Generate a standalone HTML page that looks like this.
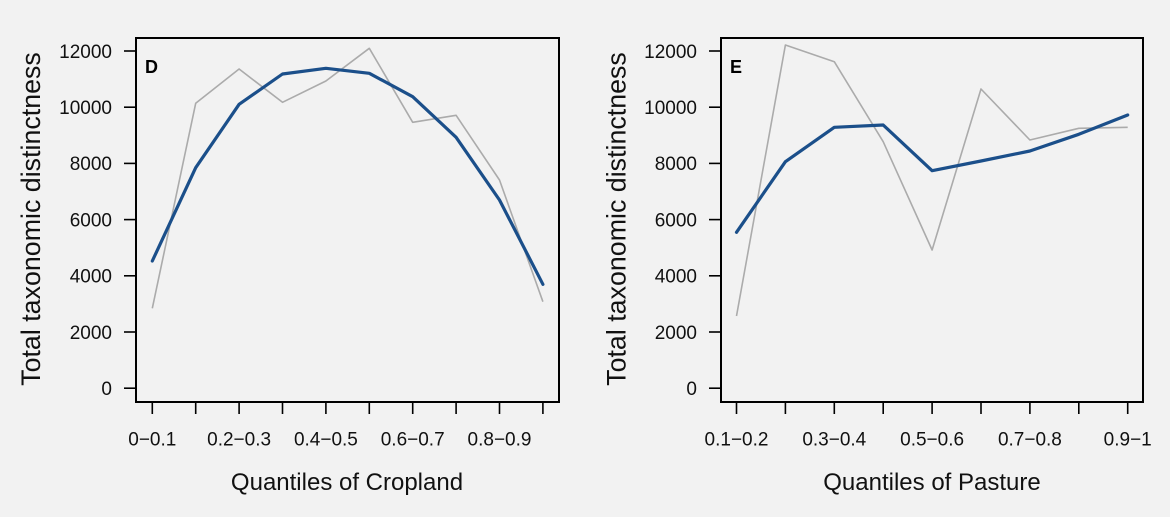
<!DOCTYPE html>
<html><head><meta charset="utf-8"><style>
html,body{margin:0;padding:0;background:#f2f2f2;}
svg{display:block;font-family:"Liberation Sans",Arial,sans-serif;}
</style></head><body>
<svg width="1170" height="517" viewBox="0 0 1170 517" xmlns="http://www.w3.org/2000/svg">
<rect width="1170" height="517" fill="#f2f2f2"/>
<!-- Panel D -->
<g>
<polyline fill="none" stroke="#ababab" stroke-width="1.6" stroke-linejoin="round" points="152.3,308.3 195.7,103.3 239.1,69 282.5,102.3 325.9,81 369.3,48.3 412.7,122.3 456.1,115.3 499.5,180 542.9,301.7"/>
<polyline fill="none" stroke="#1b4f8a" stroke-width="3.2" stroke-linejoin="round" stroke-linecap="round" points="152.3,261 195.7,167.7 239.1,104.3 282.5,74 325.9,68.3 369.3,73.3 412.7,96.7 456.1,137.3 499.5,200 542.9,284.3"/>
<rect x="136" y="38" width="423" height="364" fill="none" stroke="#000" stroke-width="2"/>
<text x="145" y="73" font-size="18" font-weight="bold">D</text>
<g stroke="#000" stroke-width="1.6">
<line x1="124" y1="51" x2="136" y2="51"/><line x1="124" y1="107.2" x2="136" y2="107.2"/><line x1="124" y1="163.4" x2="136" y2="163.4"/><line x1="124" y1="219.6" x2="136" y2="219.6"/><line x1="124" y1="275.8" x2="136" y2="275.8"/><line x1="124" y1="332" x2="136" y2="332"/><line x1="124" y1="388.2" x2="136" y2="388.2"/>
<line x1="152.3" y1="402" x2="152.3" y2="414"/><line x1="195.7" y1="402" x2="195.7" y2="414"/><line x1="239.1" y1="402" x2="239.1" y2="414"/><line x1="282.5" y1="402" x2="282.5" y2="414"/><line x1="325.9" y1="402" x2="325.9" y2="414"/><line x1="369.3" y1="402" x2="369.3" y2="414"/><line x1="412.7" y1="402" x2="412.7" y2="414"/><line x1="456.1" y1="402" x2="456.1" y2="414"/><line x1="499.5" y1="402" x2="499.5" y2="414"/><line x1="542.9" y1="402" x2="542.9" y2="414"/>
</g>
<g font-size="19" text-anchor="end" fill="#111">
<text x="112" y="57.8">12000</text><text x="112" y="114">10000</text><text x="112" y="170.2">8000</text><text x="112" y="226.4">6000</text><text x="112" y="282.6">4000</text><text x="112" y="338.8">2000</text><text x="112" y="395">0</text>
</g>
<g font-size="19" text-anchor="middle" fill="#111">
<text x="152.3" y="445.5">0−0.1</text><text x="239.1" y="445.5">0.2−0.3</text><text x="325.9" y="445.5">0.4−0.5</text><text x="412.7" y="445.5">0.6−0.7</text><text x="499.5" y="445.5">0.8−0.9</text>
</g>
<text x="347" y="490" font-size="24" text-anchor="middle" fill="#111">Quantiles of Cropland</text>
<text transform="translate(40,219) rotate(-90)" font-size="26.8" text-anchor="middle" fill="#111">Total taxonomic distinctness</text>
</g>
<!-- Panel E -->
<g>
<polyline fill="none" stroke="#ababab" stroke-width="1.6" stroke-linejoin="round" points="736.5,316 785.4,45 834.3,61.7 883.2,141.7 932.1,250 981,89 1029.9,140 1078.8,128.3 1127.7,127.3"/>
<polyline fill="none" stroke="#1b4f8a" stroke-width="3.2" stroke-linejoin="round" stroke-linecap="round" points="736.5,232.3 785.4,161.7 834.3,127.3 883.2,125 932.1,170.7 981,161 1029.9,151 1078.8,134.3 1127.7,115"/>
<rect x="721" y="38" width="422" height="364" fill="none" stroke="#000" stroke-width="2"/>
<text x="730" y="73" font-size="18" font-weight="bold">E</text>
<g stroke="#000" stroke-width="1.6">
<line x1="709" y1="51" x2="721" y2="51"/><line x1="709" y1="107.2" x2="721" y2="107.2"/><line x1="709" y1="163.4" x2="721" y2="163.4"/><line x1="709" y1="219.6" x2="721" y2="219.6"/><line x1="709" y1="275.8" x2="721" y2="275.8"/><line x1="709" y1="332" x2="721" y2="332"/><line x1="709" y1="388.2" x2="721" y2="388.2"/>
<line x1="736.5" y1="402" x2="736.5" y2="414"/><line x1="785.4" y1="402" x2="785.4" y2="414"/><line x1="834.3" y1="402" x2="834.3" y2="414"/><line x1="883.2" y1="402" x2="883.2" y2="414"/><line x1="932.1" y1="402" x2="932.1" y2="414"/><line x1="981" y1="402" x2="981" y2="414"/><line x1="1029.9" y1="402" x2="1029.9" y2="414"/><line x1="1078.8" y1="402" x2="1078.8" y2="414"/><line x1="1127.7" y1="402" x2="1127.7" y2="414"/>
</g>
<g font-size="19" text-anchor="end" fill="#111">
<text x="697" y="57.8">12000</text><text x="697" y="114">10000</text><text x="697" y="170.2">8000</text><text x="697" y="226.4">6000</text><text x="697" y="282.6">4000</text><text x="697" y="338.8">2000</text><text x="697" y="395">0</text>
</g>
<g font-size="19" text-anchor="middle" fill="#111">
<text x="736.5" y="445.5">0.1−0.2</text><text x="834.3" y="445.5">0.3−0.4</text><text x="932.1" y="445.5">0.5−0.6</text><text x="1029.9" y="445.5">0.7−0.8</text><text x="1127.7" y="445.5">0.9−1</text>
</g>
<text x="932" y="490" font-size="24" text-anchor="middle" fill="#111">Quantiles of Pasture</text>
<text transform="translate(625.5,219) rotate(-90)" font-size="26.8" text-anchor="middle" fill="#111">Total taxonomic distinctness</text>
</g>
</svg>
</body></html>
